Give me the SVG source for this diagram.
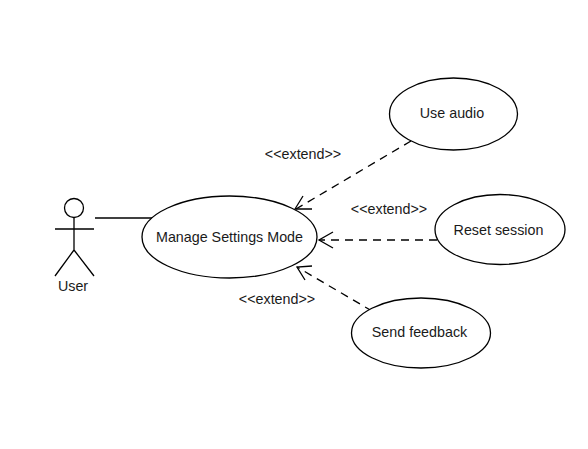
<svg xmlns="http://www.w3.org/2000/svg" width="588" height="449" viewBox="0 0 588 449">
<style>
text{font-family:"Liberation Sans",Arial,sans-serif;font-size:14.300px;fill:#1a1a1a;text-anchor:middle}
.s{fill:none;stroke:#000;stroke-width:1.300}
.e{fill:#fff;stroke:#000;stroke-width:1.300}
.d{fill:none;stroke:#000;stroke-width:1.300;stroke-dasharray:8 6}
</style>
<rect width="588" height="449" fill="#fff"/>
<g id="connectors">
<line class="s" x1="95" y1="218" x2="154" y2="218"/>
<line class="d" x1="411" y1="141" x2="296" y2="209"/>
<path class="s" d="M303 196L295 209L312 209"/>
<line class="d" x1="437" y1="240" x2="319" y2="240"/>
<path class="s" d="M333 232L319 240L333 248"/>
<line class="d" x1="372" y1="311" x2="297" y2="267"/>
<path class="s" d="M312 266L297 267L305 280"/>
</g>
<g id="actor-user">
<circle class="s" cx="74" cy="208" r="9.500"/>
<path class="s" d="M74 218V250M55 229H94M74 250L55 276M74 250L94 276"/>
<text x="73" y="291">User</text>
</g>
<g id="manage-settings"><ellipse class="e" cx="229.500" cy="237" rx="87.500" ry="41"/><text x="229.500" y="242">Manage Settings Mode</text></g>
<g id="use-audio"><ellipse class="e" cx="453.500" cy="114" rx="64" ry="36"/><text x="452" y="118">Use audio</text></g>
<g id="reset-session"><ellipse class="e" cx="500" cy="229.500" rx="65" ry="35"/><text x="498.500" y="235">Reset session</text></g>
<g id="send-feedback"><ellipse class="e" cx="421" cy="333" rx="69.500" ry="35"/><text x="419.500" y="337">Send feedback</text></g>
<g id="labels">
<text x="303" y="159">&lt;&lt;extend&gt;&gt;</text>
<text x="389" y="214">&lt;&lt;extend&gt;&gt;</text>
<text x="277" y="304">&lt;&lt;extend&gt;&gt;</text>
</g>
</svg>
